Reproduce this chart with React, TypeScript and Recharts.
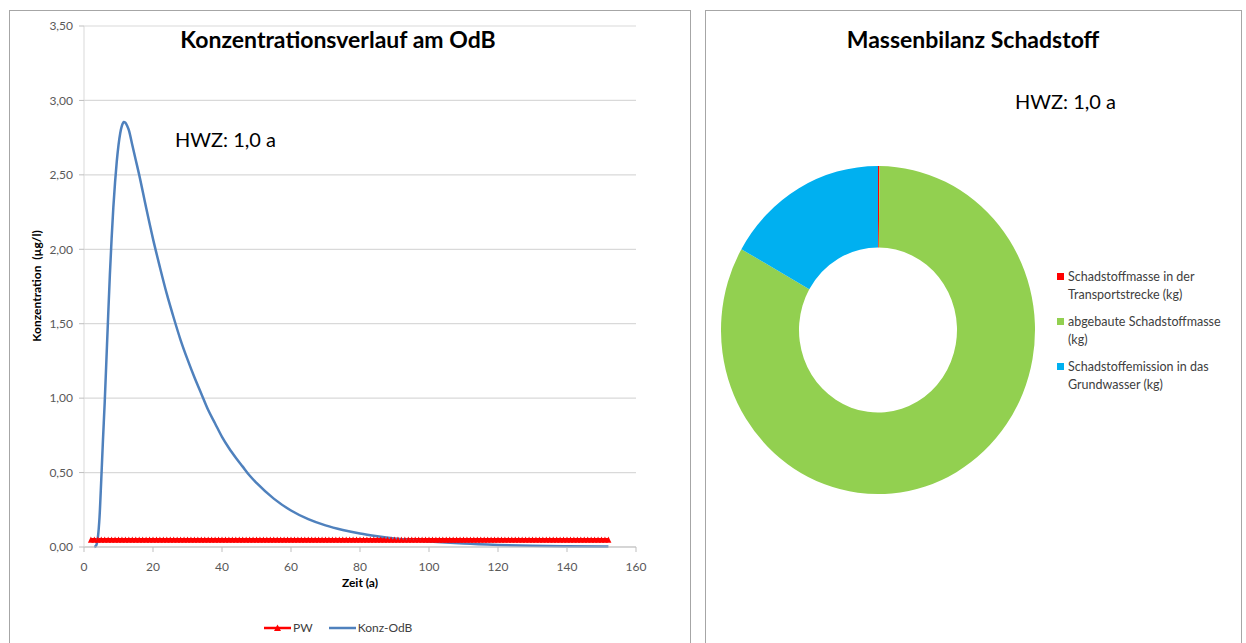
import { LineChart, Line, XAxis, YAxis, CartesianGrid, PieChart, Pie, Cell } from 'recharts'

// Konz-OdB (blue curve)
const konzYears = [3, 3.5, 4, 4.5, 5, 5.5, 6, 6.5, 7, 7.5, 8, 8.5, 9, 9.5, 10, 10.5, 11, 11.5, 12, 12.5, 13, 14, 15, 16, 18, 20, 22, 24, 26, 28, 30, 32, 34, 36, 38, 40, 42, 44, 46, 48, 50, 55, 60, 65, 70, 75, 80, 85, 90, 95, 100, 110, 120, 130, 140, 152]
const konzValues = [0, 0.01, 0.06, 0.2, 0.45, 0.72, 0.97, 1.26, 1.55, 1.83, 2.07, 2.28, 2.45, 2.59, 2.7, 2.78, 2.83, 2.855, 2.85, 2.83, 2.8, 2.7, 2.6, 2.5, 2.28, 2.07, 1.88, 1.7, 1.54, 1.39, 1.26, 1.14, 1.03, 0.92, 0.83, 0.74, 0.665, 0.6, 0.54, 0.48, 0.43, 0.325, 0.245, 0.187, 0.145, 0.114, 0.09, 0.072, 0.057, 0.046, 0.037, 0.023, 0.014, 0.008, 0.005, 0.003]

// PW (red, constant threshold, one point per year)
const pwYears = Array.from({ length: 151 }, (_, i) => 2 + i)
const pwValue = 0.047

const xTicks = [0, 20, 40, 60, 80, 100, 120, 140, 160]
const yTicks = [0, 0.5, 1, 1.5, 2, 2.5, 3, 3.5]

// Massenbilanz (donut)
const massNames = ['Schadstoffmasse in der Transportstrecke (kg)', 'abgebaute Schadstoffmasse (kg)', 'Schadstoffemission in das Grundwasser (kg)']
const massLines = [['Schadstoffmasse in der', 'Transportstrecke (kg)'], ['abgebaute Schadstoffmasse', '(kg)'], ['Schadstoffemission in das', 'Grundwasser (kg)']]
const massValues = [0.15, 83.05, 16.8]
const massColors = ['#FF0000', '#92D050', '#00B0F0']

const konzData = konzYears.map((x, i) => ({ x, y: konzValues[i] }))
const pwData = pwYears.map(x => ({ x, y: pwValue }))
const massData = massNames.map((name, i) => ({ name, value: massValues[i] }))

const FONT = 'Lato, "Open Sans", sans-serif'
const RED = '#FF0000'
const BLUE = '#4F81BD'

const fmt = (v: number) => v.toFixed(2).replace('.', ',')

function TriangleDot(props: any) {
  const { cx, cy } = props
  if (cx == null || cy == null) return null
  return <polygon points={`${cx},${cy - 3.5} ${cx - 3},${cy + 2.8} ${cx + 3},${cy + 2.8}`} fill={RED} />
}

const abs = (left: number, top: number, extra: React.CSSProperties = {}): React.CSSProperties => ({
  position: 'absolute', left, top, ...extra,
})

export default function App() {
  return (
    <div style={{ position: 'absolute', left: 0, top: 0, width: 1246, height: 643, background: '#fff', fontFamily: FONT, overflow: 'hidden' }}>
      {/* frames */}
      <div style={abs(9, 10, { width: 680, height: 650, border: '1.5px solid #A6A6A6' })} />
      <div style={abs(705, 10, { width: 535, height: 650, border: '1.5px solid #A6A6A6' })} />

      {/* left chart */}
      <div style={abs(0, 0)}>
        <LineChart width={690} height={643} margin={{ top: 26, right: 54, bottom: 66, left: 10 }}>
          <CartesianGrid vertical={false} stroke="#D9D9D9" strokeWidth={1.2} />
          <XAxis
            type="number"
            dataKey="x"
            domain={[0, 160]}
            ticks={xTicks}
            height={30}
            tick={{ fontSize: 12, fill: '#595959', fontFamily: FONT }}
            tickLine={{ stroke: '#BFBFBF' }}
            tickSize={5}
            tickMargin={10}
            axisLine={{ stroke: '#BFBFBF' }}
            allowDataOverflow
          />
          <YAxis
            type="number"
            domain={[0, 3.5]}
            ticks={yTicks}
            width={74}
            tickFormatter={fmt}
            tick={{ fontSize: 12, fill: '#595959', fontFamily: FONT }}
            tickLine={{ stroke: '#BFBFBF' }}
            tickSize={5}
            tickMargin={6}
            axisLine={{ stroke: '#D9D9D9' }}
          />
          <Line
            data={pwData}
            dataKey="y"
            type="linear"
            stroke={RED}
            strokeWidth={4}
            dot={<TriangleDot />}
            activeDot={false}
            isAnimationActive={false}
          />
          <Line
            data={konzData}
            dataKey="y"
            type="monotone"
            stroke={BLUE}
            strokeWidth={2.5}
            dot={false}
            activeDot={false}
            isAnimationActive={false}
          />
        </LineChart>
      </div>

      <div style={abs(138, 25, { width: 400, textAlign: 'center', fontSize: 23, fontWeight: 700, color: '#000' })}>
        Konzentrationsverlauf am OdB
      </div>
      <div style={abs(175, 127, { fontSize: 20, color: '#000' })}>HWZ: 1,0 a</div>
      <div style={abs(36, 286, { width: 0, height: 0 })}>
        <div style={{ position: 'absolute', left: 0, top: 0, transform: 'translate(-50%, -50%) rotate(-90deg)', whiteSpace: 'nowrap', fontSize: 12, fontWeight: 700, color: '#000' }}>
          Konzentration&nbsp; (µg/l)
        </div>
      </div>
      <div style={abs(260, 575, { width: 200, textAlign: 'center', fontSize: 12, fontWeight: 700, color: '#000' })}>Zeit (a)</div>

      {/* left legend */}
      <div style={abs(264, 620, { display: 'flex', alignItems: 'center', fontSize: 12, color: '#404040' })}>
        <svg width={27} height={10}>
          <line x1={0} y1={5} x2={27} y2={5} stroke={RED} strokeWidth={2.5} />
          <polygon points="13.5,1.5 10,8 17,8" fill={RED} />
        </svg>
        <span style={{ marginLeft: 2, marginRight: 16 }}>PW</span>
        <svg width={27} height={10}>
          <line x1={0} y1={5} x2={27} y2={5} stroke={BLUE} strokeWidth={2.5} />
        </svg>
        <span style={{ marginLeft: 2 }}>Konz-OdB</span>
      </div>

      {/* right chart */}
      <div style={abs(706, 10, { transform: 'scaleY(1.045)', transformOrigin: '172px 320px' })}>
        <PieChart width={535} height={633} margin={{ top: 0, right: 0, bottom: 0, left: 0 }}>
          <Pie
            data={massData}
            dataKey="value"
            nameKey="name"
            cx={172}
            cy={320}
            outerRadius={157}
            innerRadius={79}
            startAngle={90}
            endAngle={-270}
            stroke="none"
            isAnimationActive={false}
          >
            {massData.map((d, i) => <Cell key={d.name} fill={massColors[i]} />)}
          </Pie>
        </PieChart>
      </div>

      <div style={abs(773, 25, { width: 400, textAlign: 'center', fontSize: 23, fontWeight: 700, color: '#000' })}>
        Massenbilanz Schadstoff
      </div>
      <div style={abs(1015, 89, { fontSize: 20, color: '#000' })}>HWZ: 1,0 a</div>

      {/* right legend */}
      <div style={abs(1057, 268, { fontSize: 12.5, color: '#404040', lineHeight: '18px' })}>
        {massLines.map((lines, i) => (
          <div key={i} style={{ position: 'relative', paddingLeft: 11, marginBottom: 9 }}>
            <span style={{ position: 'absolute', left: 0, top: 5, width: 7, height: 7, background: massColors[i] }} />
            {lines.map(l => <div key={l}>{l}</div>)}
          </div>
        ))}
      </div>
    </div>
  )
}
